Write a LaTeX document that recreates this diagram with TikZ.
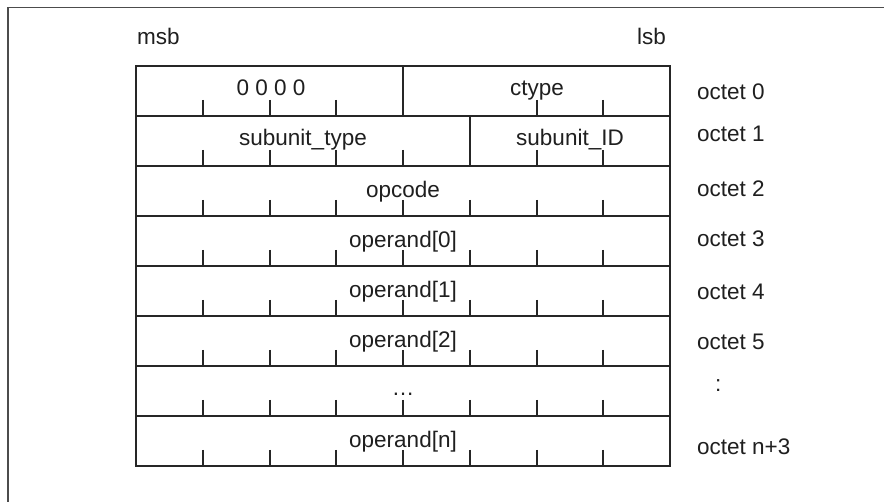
\documentclass[tikz,border=0pt]{standalone}
\usepackage{fontspec}
\setmainfont{Liberation Sans}
\begin{document}
\begin{tikzpicture}[x=1pt,y=-1pt,
  lbl/.style={inner sep=0pt, anchor=base, font=\fontsize{22.5}{27}\selectfont, text=black!88},
  olbl/.style={lbl, anchor=base west},
  tbl/.style={line width=2pt, draw=black!85},
  tickline/.style={line width=2pt, draw=black!85},
  framel/.style={line width=1.4pt, draw=black!70}]
\fill[white] (0,0) rectangle (884,502);
\useasboundingbox (0,0) rectangle (884,502);
% outer frame
\coordinate (fb) at (8,502);
\coordinate (fc) at (8,7.5);
\coordinate (fr) at (884,7.5);
\draw[framel] (fb) -- (fc) -- (fr);
% header
\node[lbl, anchor=base west] (msb) at (137,45) {msb};
\node[lbl, anchor=base east] (lsb) at (666,45) {lsb};
% table
\draw[tbl] (136,66) rectangle (670,466);
\foreach \rr in {1,...,7} {
  \draw[tbl] (136,66+50*\rr) -- (670,66+50*\rr);
}
% dividers
\draw[tbl] (403,66) -- (403,116);
\draw[tbl] (470,116) -- (470,166);
% ticks
\foreach \xx in {203,270,336,537,603} {
  \draw[tickline] (\xx,100) -- (\xx,116);
}
\foreach \xx in {203,270,336,403,537,603} {
  \draw[tickline] (\xx,150) -- (\xx,166);
}
\foreach \rr in {2,...,7} {
  \foreach \xx in {203,270,336,403,470,537,603} {
    \draw[tickline] (\xx,100+50*\rr) -- (\xx,116+50*\rr);
  }
}
% field labels
\node[lbl] (f0a) at (271,95.5) {0 0 0 0};
\node[lbl] (f0b) at (537,95.5) {ctype};
\node[lbl] (f1a) at (303,145.5) {subunit\_type};
\node[lbl] (f1b) at (570,145.5) {subunit\_ID};
\node[lbl] (f2) at (403,197.5) {opcode};
\node[lbl] (f3) at (403,247.5) {operand[0]};
\node[lbl] (f4) at (403,297.5) {operand[1]};
\node[lbl] (f5) at (403,347.5) {operand[2]};
\node[lbl] (f6) at (403,396) {…};
\node[lbl] (f7) at (403,447.5) {operand[n]};
% octet labels
\node[olbl] (o0) at (697,100) {octet 0};
\node[olbl] (o1) at (697,141.7) {octet 1};
\node[olbl] (o2) at (697,196.7) {octet 2};
\node[olbl] (o3) at (697,246.7) {octet 3};
\node[olbl] (o4) at (697,300) {octet 4};
\node[olbl] (o5) at (697,350) {octet 5};
\node[olbl] (o6) at (715,392) {:};
\node[olbl] (o7) at (697,455) {octet n+3};
\end{tikzpicture}
\end{document}
